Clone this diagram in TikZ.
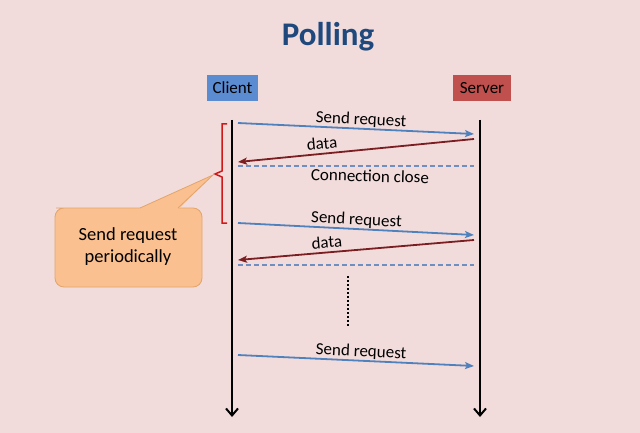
\documentclass[tikz,border=0pt]{standalone}
\usepackage{fontspec}
\setmainfont{Carlito}
\usetikzlibrary{arrows.meta,calc}
\definecolor{bg}{HTML}{F2DCDB}
\definecolor{titleblue}{HTML}{1F497D}
\definecolor{clientblue}{HTML}{5B8BD0}
\definecolor{serverred}{HTML}{C0504D}
\definecolor{reqblue}{HTML}{4F81BD}
\definecolor{datared}{HTML}{7B1E22}
\definecolor{dashblue}{HTML}{6F8FC0}
\definecolor{callfill}{HTML}{FAC090}
\definecolor{callline}{HTML}{E3A46B}
\definecolor{bracered}{HTML}{D01818}
\tikzset{
  actor/.style={minimum height=26pt, inner sep=0pt, text=black, font=\fontsize{17}{19}\selectfont},
  lifeline/.style={line width=2.4pt, -{Straight Barb[length=7pt,width=12pt,line width=2pt]}},
  reqarrow/.style={reqblue, line width=1.8pt, -{Stealth[length=9pt,width=7pt,inset=2pt]}},
  dataarrow/.style={datared, line width=1.8pt, -{Stealth[length=9pt,width=7pt,inset=2pt]}},
  closeline/.style={dashblue, line width=1.8pt, dash pattern=on 5pt off 3pt},
  msg/.style={font=\fontsize{17}{19}\selectfont, text=black, inner sep=0.5pt}
}
\begin{document}
\begin{tikzpicture}[x=1pt,y=-1pt]
\fill[bg] (0,0) rectangle (640,433);
\useasboundingbox (0,0) rectangle (640,433);
\node[font=\bfseries\fontsize{33}{36}\selectfont, text=titleblue] (title) at (328,37) {Polling};
\node[actor, fill=clientblue, minimum width=51pt] (client) at (232.5,88) {Client};
\node[actor, fill=serverred, minimum width=58pt] (server) at (482,88) {Server};
% lifelines
\coordinate (ctop) at (232,120); \coordinate (cbot) at (232,417);
\coordinate (stop) at (480,120); \coordinate (sbot) at (480,417);
\draw[lifeline] (ctop) -- (cbot);
\draw[lifeline] (stop) -- (sbot);
% round 1
\coordinate (r1a) at (238,123); \coordinate (r1b) at (474,134);
\draw[reqarrow] (r1a) -- node[msg, pos=0.52, above, sloped] (l1) {Send request} (r1b);
\coordinate (d1a) at (474,139); \coordinate (d1b) at (238,162);
\draw[dataarrow] (d1a) -- node[msg, pos=0.64, above=3pt, sloped] (l2) {data} (d1b);
\coordinate (c1a) at (238,166); \coordinate (c1b) at (474,166);
\draw[closeline] (c1a) -- (c1b);
\node[msg, rotate=-1.5] (l3) at (370,176) {Connection close};
% round 2
\coordinate (r2a) at (238,223); \coordinate (r2b) at (474,235);
\draw[reqarrow] (r2a) -- node[msg, pos=0.5, above, sloped] (l4) {Send request} (r2b);
\coordinate (d2a) at (474,240); \coordinate (d2b) at (238,260);
\draw[dataarrow] (d2a) -- node[msg, pos=0.62, above=3pt, sloped] (l5) {data} (d2b);
\coordinate (c2a) at (238,265); \coordinate (c2b) at (474,265);
\draw[closeline] (c2a) -- (c2b);
% dots
\coordinate (dt) at (348,276); \coordinate (db) at (348,327);
\draw[black, line width=2.6pt, dash pattern=on 2pt off 2pt] (dt) -- (db);
% round 3
\coordinate (r3a) at (238,355); \coordinate (r3b) at (474,366);
\draw[reqarrow] (r3a) -- node[msg, pos=0.52, above, sloped] (l6) {Send request} (r3b);
% brace
\coordinate (bt) at (227,124); \coordinate (bb) at (227,223); \coordinate (bm) at (215,174);
\draw[bracered, line width=1.5pt] (bt) -- (222,124) -- (222,171) -- (bm) -- (222,177) -- (222,223) -- (bb);
% callout
\draw[callline, fill=callfill, line width=0.8pt, rounded corners=9pt]
  (140,208) -- (65,208) -- (55,208) -- (55,287) -- (202,287) -- (202,208) -- (178,208);
\fill[callfill] (139,208.5) -- (213,175) -- (179,208.5) -- cycle;
\draw[callline, line width=0.8pt] (140,208) -- (213,175) -- (178,208);
\node[align=center, font=\fontsize{18.5}{22}\selectfont, text=black] (callout) at (128,247) {Send request\\periodically};
\end{tikzpicture}
\end{document}
